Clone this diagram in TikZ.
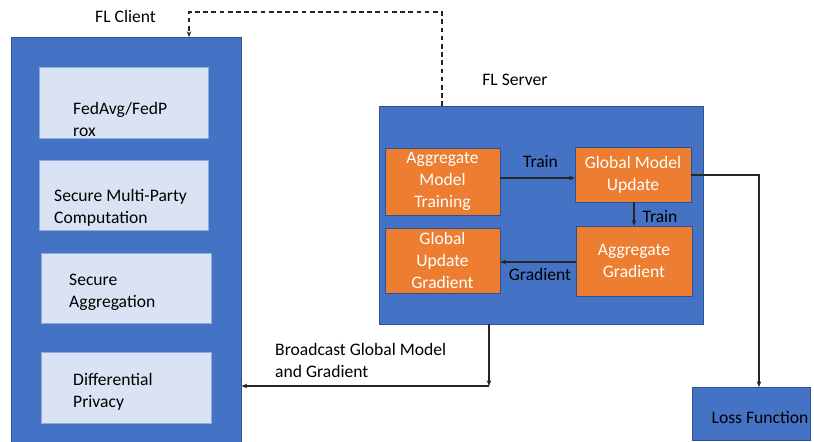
\documentclass[tikz,border=0pt]{standalone}
\usepackage{fontspec}
\setmainfont{Carlito}
\usetikzlibrary{arrows.meta}
\definecolor{mblue}{HTML}{4472C4}
\definecolor{mborder}{HTML}{2F528F}
\definecolor{morange}{HTML}{ED7D31}
\definecolor{mlight}{HTML}{DAE3F3}
\definecolor{mlightb}{HTML}{8FAADC}
\begin{document}
\begin{tikzpicture}[x=0.03cm,y=-0.03cm,
  font=\fontsize{15}{18}\selectfont,
  bigbox/.style={draw=mborder,line width=0.4pt,fill=mblue,inner sep=0pt},
  lightbox/.style={draw=mlightb,line width=0.4pt,fill=mlight,inner sep=0pt},
  orangebox/.style={draw=mborder,line width=0.4pt,fill=morange,inner sep=0pt,text=white,align=center,font=\fontsize{15}{18.5}\selectfont},
  lbl/.style={inner sep=0pt,text=black},
  conn/.style={draw=black!85,line width=0.9pt,-{Stealth[length=5pt,width=4pt]}}
]
\useasboundingbox (0,0) rectangle (814,441);
% boxes drawn by corners
\newcommand{\mybox}[6]{\node[#1,minimum width={(#4-#2)*0.03cm},minimum height={(#5-#3)*0.03cm},anchor=north west] (#6) at (#2,#3) {};}
\mybox{bigbox}{11}{37}{241}{442}{client}
\mybox{lightbox}{39}{67}{208}{138}{b1}
\mybox{lightbox}{39}{160}{208}{230}{b2}
\mybox{lightbox}{41}{253}{211}{323}{b3}
\mybox{lightbox}{41}{352}{211}{423}{b4}
\node[lbl,anchor=base west,align=left] (t1) at (73,136) {FedAvg/FedP\\rox};
\node[lbl,anchor=base west,align=left] (t2) at (54,223) {Secure Multi-Party\\Computation};
\node[lbl,anchor=base west,align=left] (t3) at (69,307) {Secure\\Aggregation};
\node[lbl,anchor=base west,align=left] (t4) at (73,407) {Differential\\Privacy};
\node[lbl] (clientlbl) at (125.5,16) {FL Client};

\mybox{bigbox}{379}{106}{703}{324}{server}
\node[lbl] (serverlbl) at (515,80) {FL Server};

\node[orangebox,minimum width={115*0.03cm},minimum height={67*0.03cm}] (amt) at (442.5,181.5) {Aggregate\\Model\\Training};
\node[orangebox,minimum width={116*0.03cm},minimum height={55*0.03cm}] (gmu) at (633,174.5) {Global Model\\Update};
\node[orangebox,minimum width={116*0.03cm},minimum height={70*0.03cm}] (ag) at (634,261) {Aggregate\\Gradient};
\node[orangebox,minimum width={115*0.03cm},minimum height={65*0.03cm}] (gug) at (442.5,260.5) {Global\\Update\\Gradient};

\draw[conn] (amt.east |- 0,178) -- (gmu.west |- 0,178);
\node[lbl] (tr1) at (540.5,162) {Train};
\coordinate (c2) at (634,0);
\draw[conn] (gmu.south -| c2) -- (ag.north -| c2);
\node[lbl] (tr2) at (660,217) {Train};
\draw[conn] (ag.west |- 0,262) -- (gug.east |- 0,262);
\node[lbl] (gr) at (540,274) {Gradient};

\mybox{bigbox}{692}{387}{810}{440}{loss}
\node[lbl] (losst) at (760,417) {Loss Function};
\coordinate (lc) at (759,175);
\draw[conn] (gmu.east |- lc) -- (lc) -- (lc |- loss.north);

\coordinate (d1) at (442,12);
\coordinate (d2) at (189,12);
\draw[conn,dash pattern=on 4pt off 3pt,line width=1pt] (server.north -| d1) -- (d1) -- (d2) -- (d2 |- client.north);

\coordinate (bc) at (489,386);
\draw[conn] (server.south -| bc) -- (bc);
\draw[conn] (bc) -- (bc -| client.east);
\node[lbl,anchor=base west,align=left] (bl) at (275,377) {Broadcast Global Model\\and Gradient};
\end{tikzpicture}
\end{document}
